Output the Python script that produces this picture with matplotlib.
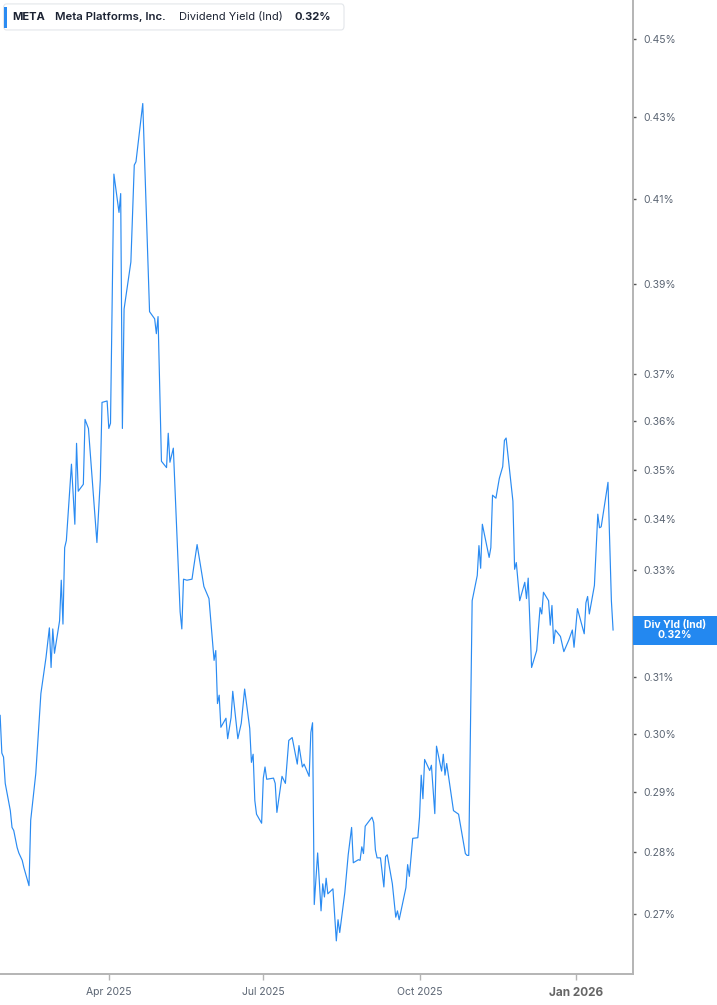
import matplotlib
matplotlib.use("Agg")
import matplotlib.pyplot as plt
import matplotlib.transforms as mtransforms
from matplotlib.patches import FancyBboxPatch, Rectangle
import pandas as pd

# META dividend yield (indicated), percent
dates = [
    "2025-01-27", "2025-01-28", "2025-01-29", "2025-01-30", "2025-02-02", "2025-02-03", "2025-02-04",
    "2025-02-06", "2025-02-07", "2025-02-09", "2025-02-10", "2025-02-13", "2025-02-14", "2025-02-17",
    "2025-02-20", "2025-02-23", "2025-02-25", "2025-02-26", "2025-02-27", "2025-02-28", "2025-03-03",
    "2025-03-04", "2025-03-05", "2025-03-06", "2025-03-07", "2025-03-10", "2025-03-12", "2025-03-13",
    "2025-03-14", "2025-03-17", "2025-03-18", "2025-03-20", "2025-03-25", "2025-03-27", "2025-03-28",
    "2025-03-31", "2025-04-01", "2025-04-02", "2025-04-04", "2025-04-07", "2025-04-08", "2025-04-09",
    "2025-04-10", "2025-04-14", "2025-04-16", "2025-04-17", "2025-04-21", "2025-04-25", "2025-04-28",
    "2025-04-29", "2025-04-30", "2025-05-02", "2025-05-05", "2025-05-06", "2025-05-07", "2025-05-09",
    "2025-05-13", "2025-05-14", "2025-05-15", "2025-05-17", "2025-05-20", "2025-05-21", "2025-05-23",
    "2025-05-27", "2025-05-30", "2025-06-02", "2025-06-03", "2025-06-04", "2025-06-05", "2025-06-06",
    "2025-06-09", "2025-06-10", "2025-06-12", "2025-06-13", "2025-06-16", "2025-06-18", "2025-06-20",
    "2025-06-23", "2025-06-24", "2025-06-25", "2025-06-26", "2025-06-27", "2025-06-30", "2025-07-01",
    "2025-07-02", "2025-07-03", "2025-07-07", "2025-07-08", "2025-07-09", "2025-07-12", "2025-07-14",
    "2025-07-16", "2025-07-18", "2025-07-21", "2025-07-22", "2025-07-24", "2025-07-25", "2025-07-28",
    "2025-07-29", "2025-07-30", "2025-07-31", "2025-08-02", "2025-08-04", "2025-08-05", "2025-08-06",
    "2025-08-07", "2025-08-08", "2025-08-11", "2025-08-13", "2025-08-14", "2025-08-15", "2025-08-18",
    "2025-08-20", "2025-08-22", "2025-08-23", "2025-08-26", "2025-08-27", "2025-08-28", "2025-08-29",
    "2025-08-30", "2025-09-03", "2025-09-04", "2025-09-05", "2025-09-06", "2025-09-08", "2025-09-10",
    "2025-09-11", "2025-09-12", "2025-09-15", "2025-09-17", "2025-09-18", "2025-09-19", "2025-09-23",
    "2025-09-24", "2025-09-25", "2025-09-27", "2025-09-30", "2025-10-01", "2025-10-02", "2025-10-03",
    "2025-10-04", "2025-10-07", "2025-10-08", "2025-10-10", "2025-10-11", "2025-10-14", "2025-10-15",
    "2025-10-16", "2025-10-17", "2025-10-21", "2025-10-24", "2025-10-28", "2025-10-29", "2025-10-30",
    "2025-11-01", "2025-11-04", "2025-11-05", "2025-11-06", "2025-11-07", "2025-11-11", "2025-11-12",
    "2025-11-13", "2025-11-15", "2025-11-17", "2025-11-19", "2025-11-20", "2025-11-21", "2025-11-25",
    "2025-11-26", "2025-11-27", "2025-11-29", "2025-12-02", "2025-12-03", "2025-12-04", "2025-12-06",
    "2025-12-09", "2025-12-11", "2025-12-12", "2025-12-13", "2025-12-16", "2025-12-17", "2025-12-18",
    "2025-12-19", "2025-12-20", "2025-12-23", "2025-12-25", "2025-12-28", "2025-12-30", "2025-12-31",
    "2026-01-02", "2026-01-06", "2026-01-07", "2026-01-08", "2026-01-09", "2026-01-12", "2026-01-14",
    "2026-01-15", "2026-01-16", "2026-01-20", "2026-01-22", "2026-01-23",
]
div_yield = [
    .3032, .2966, .2959, .2914, .2868, .2840, .2835, .2807, .2798, .2786, .2774, .2745, .2852, .2931,
    .3071, .3136, .3191, .3118, .3189, .3144, .3204, .3281, .3198, .3344, .3358, .3511, .3390, .3554,
    .3456, .3470, .3604, .3585, .3354, .3480, .3640, .3643, .3585, .3596, .4159, .4067, .4112, .3585,
    .3844, .3951, .4181, .4189, .4334, .3838, .3822, .3789, .3827, .3517, .3504, .3575, .3515, .3544,
    .3221, .3189, .3283, .3281, .3283, .3306, .3350, .3269, .3246, .3131, .3149, .3053, .3068, .3011,
    .3027, .2991, .3028, .3075, .2991, .3018, .3079, .3009, .2950, .2964, .2885, .2862, .2847, .2923,
    .2942, .2921, .2923, .2914, .2865, .2926, .2914, .2988, .2993, .2947, .2979, .2942, .2947, .2926,
    .3002, .3019, .2715, .2798, .2705, .2748, .2727, .2757, .2732, .2740, .2658, .2691, .2671, .2734,
    .2795, .2840, .2782, .2787, .2786, .2808, .2797, .2842, .2857, .2848, .2803, .2790, .2790, .2743,
    .2792, .2795, .2748, .2695, .2705, .2691, .2742, .2779, .2760, .2822, .2823, .2857, .2928, .2888,
    .2955, .2936, .2945, .2863, .2978, .2935, .2964, .2928, .2948, .2868, .2862, .2797, .2794, .2794,
    .3242, .3290, .3348, .3304, .3390, .3325, .3344, .3448, .3442, .3482, .3506, .3560, .3565, .3436,
    .3302, .3315, .3242, .3277, .3246, .3285, .3118, .3149, .3229, .3217, .3258, .3242, .3196, .3233,
    .3162, .3187, .3175, .3147, .3169, .3187, .3155, .3227, .3180, .3238, .3250, .3217, .3271, .3410,
    .3383, .3385, .3474, .3242, .3187,
]

y_ticks = [0.27, 0.28, 0.29, 0.30, 0.31, 0.33, 0.34, 0.35, 0.36, 0.37, 0.39, 0.41, 0.43, 0.45]
x_ticks = ["2025-04-01", "2025-07-01", "2025-10-01", "2026-01-01"]
x_tick_labels = ["Apr 2025", "Jul 2025", "Oct 2025", "Jan 2026"]

ticker = "META"
company = "Meta Platforms, Inc."
metric = "Dividend Yield (Ind)"
last_label = "0.32%"

LINE = "#2a8bf2"
SPINE = "#b4b4b4"
TXT = "#5b6573"

plt.rcParams["font.family"] = ["Inter", "DejaVu Sans"]

fig = plt.figure(figsize=(7.17, 10.05), dpi=100)
ax = fig.add_axes([0, 0.0308, 0.8822, 0.9692])

ax.plot(pd.to_datetime(dates), div_yield, color=LINE, lw=0.85)

ax.set_yscale("log")
ax.set_ylim(0.2607, 0.4604)
ax.set_xlim(pd.Timestamp("2025-01-26 22:00"), pd.Timestamp("2026-02-03 11:00"))

ax.yaxis.tick_right()
ax.set_yticks(y_ticks)
ax.set_yticklabels(["%.2f%%" % v for v in y_ticks])
ax.minorticks_off()
ax.tick_params(axis="y", which="both", length=2, width=1, color="#555555",
               pad=6, labelsize=7.5, labelcolor=TXT)

ax.set_xticks(pd.to_datetime(x_ticks))
ax.set_xticklabels(x_tick_labels)
ax.tick_params(axis="x", length=4, width=1, color=SPINE, pad=5,
               labelsize=7.5, labelcolor=TXT)
xl = ax.get_xticklabels()
xl[-1].set_fontweight("bold")
xl[-1].set_fontsize(8.5)
xl[-1].set_color("#666666")

for s in ["top", "left"]:
    ax.spines[s].set_visible(False)
for s in ["right", "bottom"]:
    ax.spines[s].set_color(SPINE)
    ax.spines[s].set_linewidth(1.4)

# header box
fig.patches.append(FancyBboxPatch((0.0049, 0.9702), 0.4749, 0.0259,
                                  boxstyle="round,pad=0,rounding_size=0.004",
                                  transform=fig.transFigure, facecolor="white",
                                  edgecolor="#e3e6ea", lw=0.8))
fig.patches.append(Rectangle((0.0056, 0.9722), 0.0042, 0.0209,
                             transform=fig.transFigure, facecolor=LINE, edgecolor="none"))
hy = 1 - 17 / 1005
fig.text(0.0177, hy, ticker, fontsize=8, fontweight="bold", color="#1c2333", va="center")
fig.text(0.0767, hy, company, fontsize=8.2, fontweight="semibold", color="#1c2333", va="center")
fig.text(0.2497, hy, metric, fontsize=8, color="#1c2333", va="center")
fig.text(0.4114, hy, last_label, fontsize=8, fontweight="bold", color="#1c2333", va="center")

# last value label on the right axis, placed at the last value
box_x0 = 0.8826
last = div_yield[-1]
lab_h = 29 / 1005
y_disp = ax.transData.transform((0, last))[1]
y_fig = fig.transFigure.inverted().transform((0, y_disp))[1]
fig.patches.append(Rectangle((box_x0, y_fig - lab_h / 2), 1 - box_x0, lab_h,
                             transform=fig.transFigure, facecolor="#2388f0", edgecolor="none"))
fig.text((box_x0 + 1) / 2, y_fig, "Div Yld (Ind)\n" + last_label, fontsize=7.5,
         fontweight="bold", color="white", ha="center", va="center", linespacing=1.1)

fig.savefig("out.png", dpi=100)
